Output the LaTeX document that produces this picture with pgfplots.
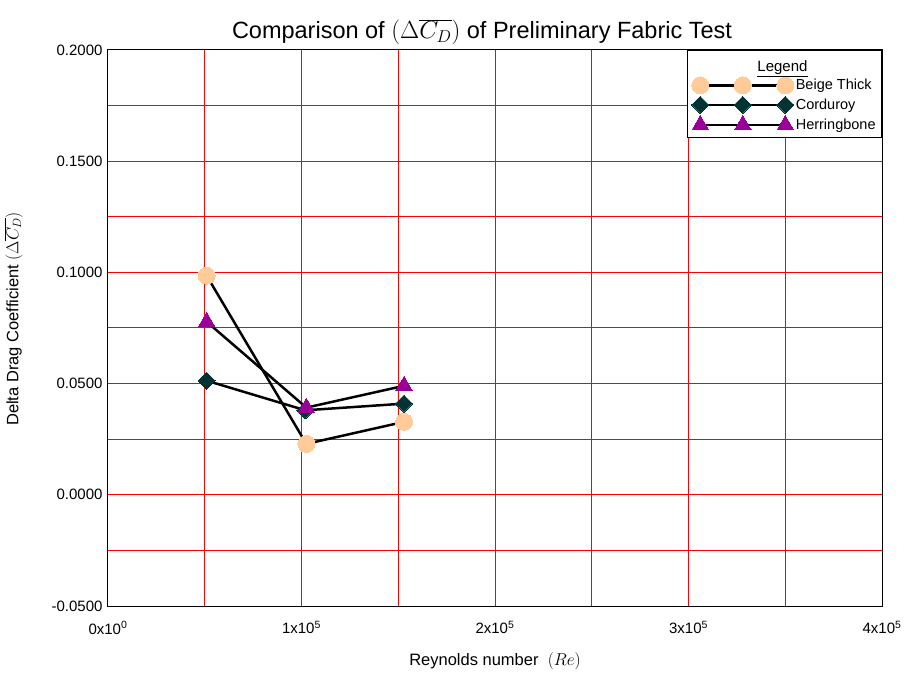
\documentclass[border=0pt]{standalone}
\usepackage{pgfplots}
\pgfplotsset{compat=1.18}
\usepackage{fontspec}
\setmainfont{Liberation Sans}
\definecolor{beige}{HTML}{FFCC99}
\definecolor{cord}{HTML}{003333}
\definecolor{herr}{HTML}{990099}
\begin{document}
\begin{tikzpicture}
\path[use as bounding box] (-108bp,-71bp) rectangle (798bp,606bp);
\begin{axis}[
  at={(0,0)}, anchor=south west,
  scale only axis, width=774bp, height=556bp,
  xmin=0, xmax=400000, ymin=-0.05, ymax=0.2,
  xtick={0,100000,200000,300000,400000},
  xticklabels={0x10\textsuperscript{0},1x10\textsuperscript{5},2x10\textsuperscript{5},3x10\textsuperscript{5},4x10\textsuperscript{5}},
  minor xtick={50000,150000,250000,350000},
  ytick={-0.05,0,0.05,0.1,0.15,0.2},
  minor ytick={-0.025,0.025,0.075,0.125,0.175},
  scaled x ticks=false, scaled y ticks=false,
  every tick label/.append style={font=\fontsize{15bp}{17bp}\selectfont},
  yticklabel style={font=\fontsize{15bp}{17bp}\selectfont,
    /pgf/number format/fixed, /pgf/number format/fixed zerofill,
    /pgf/number format/precision=4, /pgf/number format/assume math mode=true, xshift=-2bp},
  xticklabel style={font=\fontsize{15bp}{17bp}\selectfont, yshift=-12bp},
  major tick length=0pt, minor tick length=0pt,
  grid=both,
  grid style={red, line width=1bp},
  major grid style={red, line width=1bp},
  minor grid style={red, line width=1bp},
  axis line style={black, line width=1bp},
  title={Comparison of $(\Delta\overline{C_D})$ of Preliminary Fabric Test},
  title style={font=\fontsize{23.5bp}{27bp}\selectfont, yshift=-4bp, xshift=-13bp},
  xlabel={Reynolds number\ \ $(Re)$},
  ylabel={Delta Drag Coefficient $(\Delta\overline{C_D})$},
  label style={font=\fontsize{16.5bp}{19bp}\selectfont},
  xlabel style={yshift=-12bp},
  ylabel style={yshift=22bp, xshift=9bp},
  legend style={at={(1,1)}, anchor=north east, draw=black, line width=0.8pt,
    fill=white, font=\fontsize{14.5bp}{16bp}\selectfont, row sep=1.5bp,
    inner ysep=4bp, inner xsep=4bp, legend cell align=left},
  legend image code/.code={\path[draw=none, fill=none] (-9bp,-9bp) rectangle (86bp,9bp);
    \draw[#1, line width=2.5pt] plot coordinates {(0bp,0bp) (42.5bp,0bp) (85bp,0bp)};},
]
\addlegendimage{empty legend}
\addlegendentry{\rule{0pt}{15bp}}
\addplot[black, line width=2.5pt, mark=*, mark size=8.5bp, mark options={fill=beige, draw=beige, line width=0pt}]
  coordinates {(51000,0.0985) (102500,0.0229) (153000,0.0328)};
\addlegendentry{Beige Thick}
\addplot[black, line width=2.5pt, mark=square*, mark size=6bp, mark options={fill=cord, draw=cord, line width=0pt, rotate=45}]
  coordinates {(51000,0.0513) (102000,0.0380) (153000,0.0410)};
\addlegendentry{Corduroy}
\addplot[black, line width=2.5pt, mark=triangle*, mark size=9.5bp, mark options={fill=herr, draw=herr, line width=0pt}]
  coordinates {(51000,0.0778) (102500,0.0392) (153000,0.0490)};
\addlegendentry{Herringbone}
\end{axis}
\node[font=\fontsize{15bp}{17bp}\selectfont, xshift=-99.5bp, yshift=-19bp] at (current axis.north east) {\underline{Legend}};
\end{tikzpicture}
\end{document}
